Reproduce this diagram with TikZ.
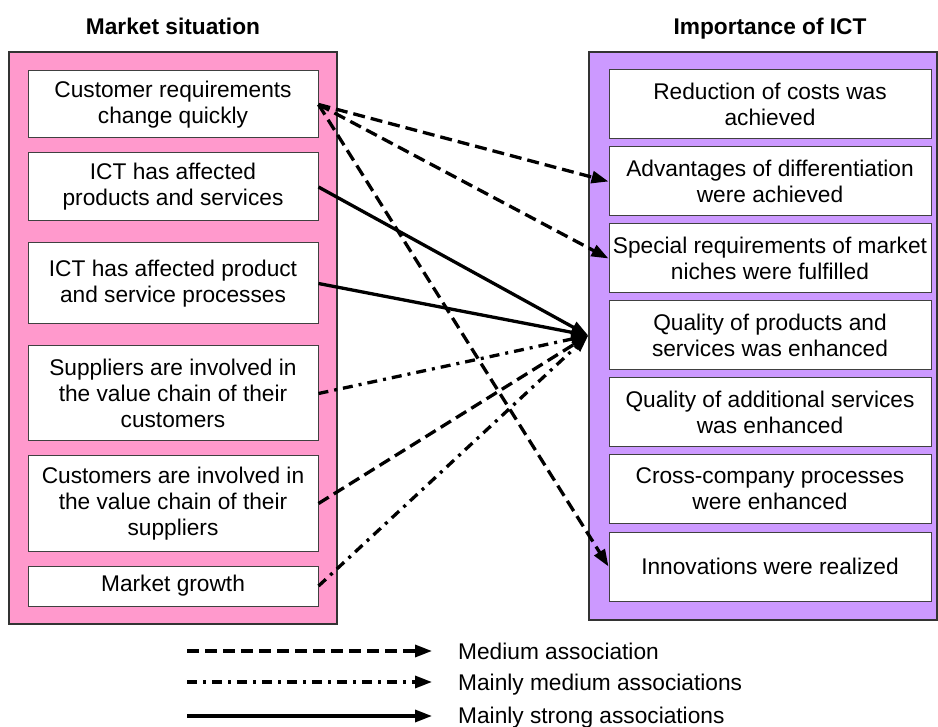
\documentclass[tikz,border=0pt]{standalone}
\usepackage{fontspec}
\setmainfont{Liberation Sans}
\usetikzlibrary{arrows.meta}
\definecolor{pinkbg}{HTML}{FF99CC}
\definecolor{purplebg}{HTML}{CC99FF}
\begin{document}
\begin{tikzpicture}[x=1pt,y=-1pt,
  panel/.style={draw=black!80, line width=1.5pt, inner sep=0pt},
  itembox/.style={draw=black!75, line width=1pt, fill=white, align=center, inner sep=0pt,
    font=\fontsize{22.7}{26}\selectfont},
  lbox/.style={itembox, minimum width=290pt},
  rbox/.style={itembox, minimum width=322pt, minimum height=69pt},
  title/.style={font=\fontsize{22.7}{26}\selectfont\bfseries, anchor=base},
  conn/.style={line width=3.3pt, -{Triangle[length=17pt,width=12pt]}},
  meddash/.style={conn, dash pattern=on 12pt off 6pt},
  dashdot/.style={conn, dash pattern=on 10pt off 6pt on 3pt off 6pt},
  strong/.style={conn},
  legtext/.style={font=\fontsize{22.7}{26}\selectfont, anchor=base west, inner sep=0pt}
]
\useasboundingbox (0,0) rectangle (938,727);

% panels
\node[panel, fill=pinkbg, minimum width=328pt, minimum height=572pt] (L) at (173,338) {};
\node[panel, fill=purplebg, minimum width=348pt, minimum height=568pt] (R) at (763,336) {};

% titles
\node[title] (tl) at (173,35) {Market situation};
\node[title] (tr) at (770,35) {Importance of ICT};

% left boxes
\node[lbox, minimum height=67pt] (c1) at (173,104.5) {Customer requirements\\change quickly};
\node[lbox, minimum height=68pt] (c2) at (173,187) {ICT has affected\\products and services};
\node[lbox, minimum height=81pt] (c3) at (173,283.5) {ICT has affected product\\and service processes};
\node[lbox, minimum height=95pt] (c4) at (173,393.5) {Suppliers are involved in\\the value chain of their\\customers};
\node[lbox, minimum height=95pt] (c5) at (173,503.5) {Customers are involved in\\the value chain of their\\suppliers};
\node[lbox, minimum height=40pt] (c6) at (173,586) {Market growth};

% right boxes
\node[rbox] (r1) at (770,104.5) {Reduction of costs was\\achieved};
\node[rbox] (r2) at (770,181.5) {Advantages of differentiation\\were achieved};
\node[rbox] (r3) at (770,258.5) {Special requirements of market\\niches were fulfilled};
\node[rbox] (r4) at (770,335.5) {Quality of products and\\services was enhanced};
\node[rbox] (r5) at (770,412.5) {Quality of additional services\\was enhanced};
\node[rbox] (r6) at (770,489) {Cross-company processes\\were enhanced};
\node[rbox] (r7) at (770,566.5) {Innovations were realized};

% connectors
\coordinate (Q) at (r4.west -| R.west);
\draw[meddash] (c1.east) -- (r2.west);
\draw[meddash] (c1.east) -- (r3.west);
\draw[meddash] (c1.east) -- (r7.west);
\draw[strong] (c2.east) -- (Q);
\draw[strong] (c3.east) -- (Q);
\draw[dashdot] (c4.east) -- (Q);
\draw[meddash] (c5.east) -- (Q);
\draw[dashdot] (c6.east) -- (Q);

% legend
\coordinate (l1s) at (187,651);
\coordinate (l1e) at (432,651);
\coordinate (l2s) at (187,682);
\coordinate (l2e) at (432,682);
\coordinate (l3s) at (187,716);
\coordinate (l3e) at (432,716);
\draw[meddash] (l1s) -- (l1e);
\draw[dashdot] (l2s) -- (l2e);
\draw[strong] (l3s) -- (l3e);
\node[legtext] (t1) at (458,659) {Medium association};
\node[legtext] (t2) at (458,690) {Mainly medium associations};
\node[legtext] (t3) at (458,723) {Mainly strong associations};
\end{tikzpicture}
\end{document}
